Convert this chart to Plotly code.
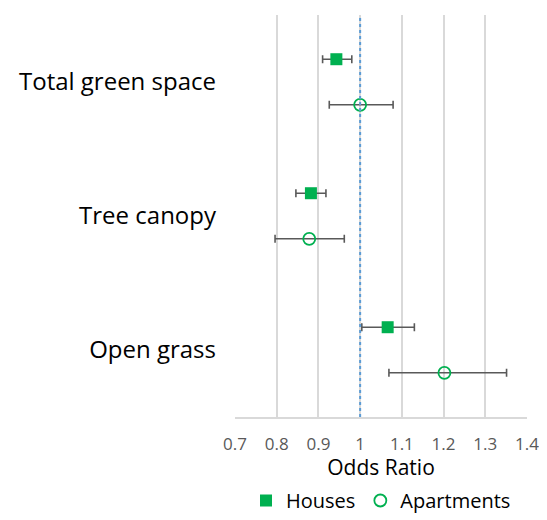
import plotly.graph_objects as go

categories = ["Total green space", "Tree canopy", "Open grass"]
houses_or = [0.943, 0.882, 1.066]
houses_low = [0.910, 0.846, 1.004]
houses_high = [0.980, 0.918, 1.130]
apts_or = [1.000, 0.878, 1.202]
apts_low = [0.926, 0.796, 1.069]
apts_high = [1.079, 0.962, 1.351]
x_ticks = [0.7, 0.8, 0.9, 1.0, 1.1, 1.2, 1.3, 1.4]
x_tick_labels = ["0.7", "0.8", "0.9", "1", "1.1", "1.2", "1.3", "1.4"]

cat_pos = [3, 2, 1]
offset = 0.17
green = "#00B050"
errc = "#595959"

fig = go.Figure()
fig.add_trace(go.Scatter(
    x=houses_or, y=[p + offset for p in cat_pos], mode="markers", name="Houses",
    marker=dict(symbol="square", size=12, color=green),
    error_x=dict(type="data", symmetric=False,
                 array=[h - o for h, o in zip(houses_high, houses_or)],
                 arrayminus=[o - l for l, o in zip(houses_low, houses_or)],
                 color=errc, thickness=1.6, width=4),
))
fig.add_trace(go.Scatter(
    x=apts_or, y=[p - offset for p in cat_pos], mode="markers", name="Apartments",
    marker=dict(symbol="circle-open", size=12, color=green, line=dict(width=1.8, color=green)),
    error_x=dict(type="data", symmetric=False,
                 array=[h - o for h, o in zip(apts_high, apts_or)],
                 arrayminus=[o - l for l, o in zip(apts_low, apts_or)],
                 color=errc, thickness=1.6, width=4),
))

fig.add_shape(type="line", x0=1, x1=1, y0=0, y1=1, yref="paper", xref="x",
              line=dict(color="#5B9BD5", width=2, dash="dot"), layer="above")

fig.update_layout(
    width=539, height=512,
    margin=dict(l=227, r=20, t=7, b=103, autoexpand=False),
    plot_bgcolor="white", paper_bgcolor="white",
    font=dict(family="Open Sans, Liberation Sans, sans-serif"),
    showlegend=True,
    legend=dict(orientation="h", x=0.5, xanchor="center", xref="paper",
                yref="container", y=0.0, yanchor="bottom",
                font=dict(size=20, color="#000000"), itemwidth=30, traceorder="normal"),
    xaxis=dict(range=[0.7, 1.4], tickvals=x_ticks, ticktext=x_tick_labels,
               showgrid=True, gridcolor="#D9D9D9", gridwidth=1.5,
               zeroline=False, showline=True, linecolor="#D9D9D9", linewidth=1.5,
               ticks="", tickfont=dict(size=17, color="#595959"), ticklabelstandoff=11,
               title=dict(text="Odds Ratio", font=dict(size=21, color="#000000"), standoff=13),
               automargin=False, mirror=False),
    yaxis=dict(range=[0.5, 3.5], tickvals=cat_pos, ticktext=categories,
               showgrid=False, zeroline=False, showline=False, ticks="",
               tickfont=dict(size=24, color="#000000"), ticklabelstandoff=18,
               automargin=False),
)

fig.write_html("out.html")
